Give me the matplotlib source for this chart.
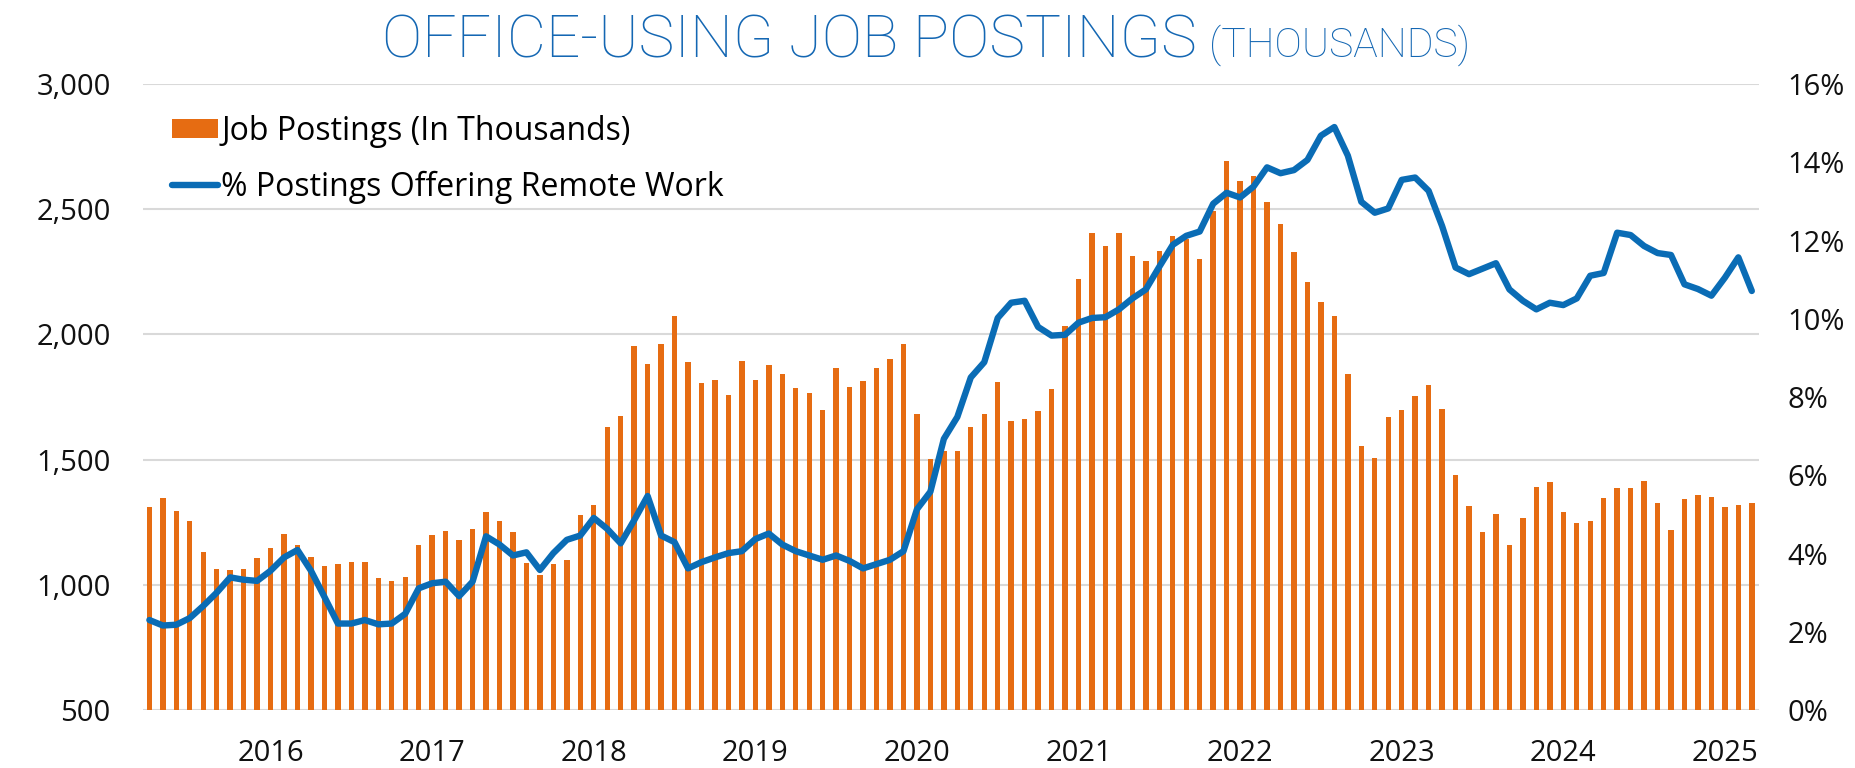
import matplotlib
matplotlib.use('Agg')
import matplotlib.pyplot as plt
from matplotlib.patches import Patch
from matplotlib.lines import Line2D
from matplotlib.ticker import FuncFormatter
import numpy as np
import pandas as pd

# Monthly data, Apr 2015 - Mar 2025
months = pd.date_range('2015-04-01', periods=120, freq='MS')

postings = [
    1309, 1347, 1296, 1254, 1130, 1065, 1060, 1065, 1109, 1147, 1204, 1160,
    1111, 1074, 1082, 1091, 1091, 1026, 1016, 1030, 1158, 1200, 1214, 1179,
    1223, 1291, 1256, 1212, 1088, 1039, 1082, 1100, 1279, 1318, 1630, 1674,
    1953, 1881, 1961, 2072, 1889, 1807, 1818, 1758, 1893, 1819, 1879, 1842,
    1786, 1768, 1700, 1865, 1789, 1814, 1865, 1902, 1961, 1682, 1504, 1533,
    1535, 1632, 1682, 1811, 1656, 1661, 1693, 1782, 2033, 2223, 2407, 2354,
    2405, 2314, 2293, 2332, 2395, 2381, 2300, 2491, 2693, 2612, 2632, 2528,
    2440, 2328, 2209, 2130, 2074, 1842, 1556, 1507, 1672, 1697, 1756, 1798,
    1702, 1437, 1316, 1209, 1284, 1161, 1267, 1391, 1411, 1289, 1246, 1254,
    1345, 1385, 1387, 1416, 1326, 1218, 1342, 1360, 1351, 1309, 1317, 1327,
]

remote_pct = [
    2.30, 2.16, 2.18, 2.35, 2.66, 3.00, 3.39, 3.33, 3.30, 3.56, 3.90, 4.09,
    3.56, 2.89, 2.21, 2.21, 2.30, 2.19, 2.21, 2.46, 3.11, 3.24, 3.28, 2.91,
    3.28, 4.44, 4.23, 3.95, 4.03, 3.58, 4.01, 4.35, 4.46, 4.91, 4.63, 4.26,
    4.85, 5.47, 4.46, 4.29, 3.62, 3.78, 3.90, 4.01, 4.06, 4.37, 4.51, 4.23,
    4.06, 3.95, 3.84, 3.95, 3.81, 3.62, 3.73, 3.84, 4.06, 5.13, 5.58, 6.93,
    7.49, 8.50, 8.89, 10.02, 10.41, 10.46, 9.79, 9.57, 9.59, 9.90, 10.02, 10.04,
    10.24, 10.52, 10.75, 11.33, 11.89, 12.12, 12.23, 12.94, 13.22, 13.10, 13.38, 13.87,
    13.72, 13.80, 14.06, 14.68, 14.90, 14.17, 12.99, 12.71, 12.82, 13.55, 13.61, 13.27,
    12.37, 11.31, 11.14, 11.28, 11.42, 10.75, 10.46, 10.24, 10.41, 10.35, 10.52, 11.10,
    11.17, 12.20, 12.14, 11.86, 11.68, 11.63, 10.88, 10.76, 10.59, 11.05, 11.57, 10.71,
]

year_labels = ['2016', '2017', '2018', '2019', '2020', '2021', '2022', '2023', '2024', '2025']

orange = '#E66C12'
blue = '#0A6CB5'
title_blue = '#1467B3'
grid_gray = '#D9D9D9'

plt.rcParams['font.family'] = ['Open Sans', 'DejaVu Sans']

fig = plt.figure(figsize=(18.55, 7.68), dpi=100)
ax = fig.add_axes([0.0769, 0.0755, 0.8711, 0.8151])
ax2 = ax.twinx()

x = np.arange(len(months))
ax.bar(x, postings, width=0.4, color=orange, zorder=2)
ax2.plot(x, np.array(remote_pct) / 100, color=blue, linewidth=4.6,
         solid_joinstyle='round', solid_capstyle='round', zorder=3)

# Axes limits and ticks
ax.set_xlim(-0.5, len(months) - 0.5)
ax.set_ylim(500, 3000)
ax.set_yticks(range(500, 3001, 500))
ax.yaxis.set_major_formatter(FuncFormatter(lambda v, p: f'{int(v):,}'))
ax2.set_ylim(0, 0.16)
ax2.set_yticks(np.arange(0, 0.161, 0.02))
ax2.yaxis.set_major_formatter(FuncFormatter(lambda v, p: f'{v * 100:.0f}%'))

jan_pos = [i for i, m in enumerate(months) if m.month == 1]
ax.set_xticks(jan_pos)
ax.set_xticklabels(year_labels)

ax.grid(axis='y', color=grid_gray, linewidth=1.5, zorder=0)
ax.set_axisbelow(True)
for a in (ax, ax2):
    for s in a.spines.values():
        s.set_visible(False)
ax.tick_params(axis='both', length=0, labelsize=21, colors='#111111')
ax.tick_params(axis='y', pad=23)
ax.tick_params(axis='x', pad=21)
ax2.tick_params(axis='y', length=0, labelsize=21, colors='#111111', pad=21)

# Legend
handles = [Patch(facecolor=orange, edgecolor='none'),
           Line2D([0], [0], color=blue, linewidth=4.6, solid_capstyle='round')]
labels = ['Job Postings (In Thousands)', '% Postings Offering Remote Work']
ax2.legend(handles, labels, loc='upper left', bbox_to_anchor=(0.018, 0.951),
           frameon=False, fontsize=23, handlelength=1.45, handleheight=0.55,
           handletextpad=0.1, labelspacing=0.72, borderpad=0, borderaxespad=0)

# Title
fig.text(1197 / 1855, 1 - 57 / 768, 'OFFICE-USING JOB POSTINGS', ha='right', va='baseline',
         fontsize=43.5, color=title_blue, family=['Roboto', 'DejaVu Sans'], fontweight='light')
fig.text(1209 / 1855, 1 - 57 / 768, '(THOUSANDS)', ha='left', va='baseline',
         fontsize=29.5, color=title_blue, family=['Roboto', 'DejaVu Sans'], fontweight='light')

fig.savefig('out.png', dpi=100)
